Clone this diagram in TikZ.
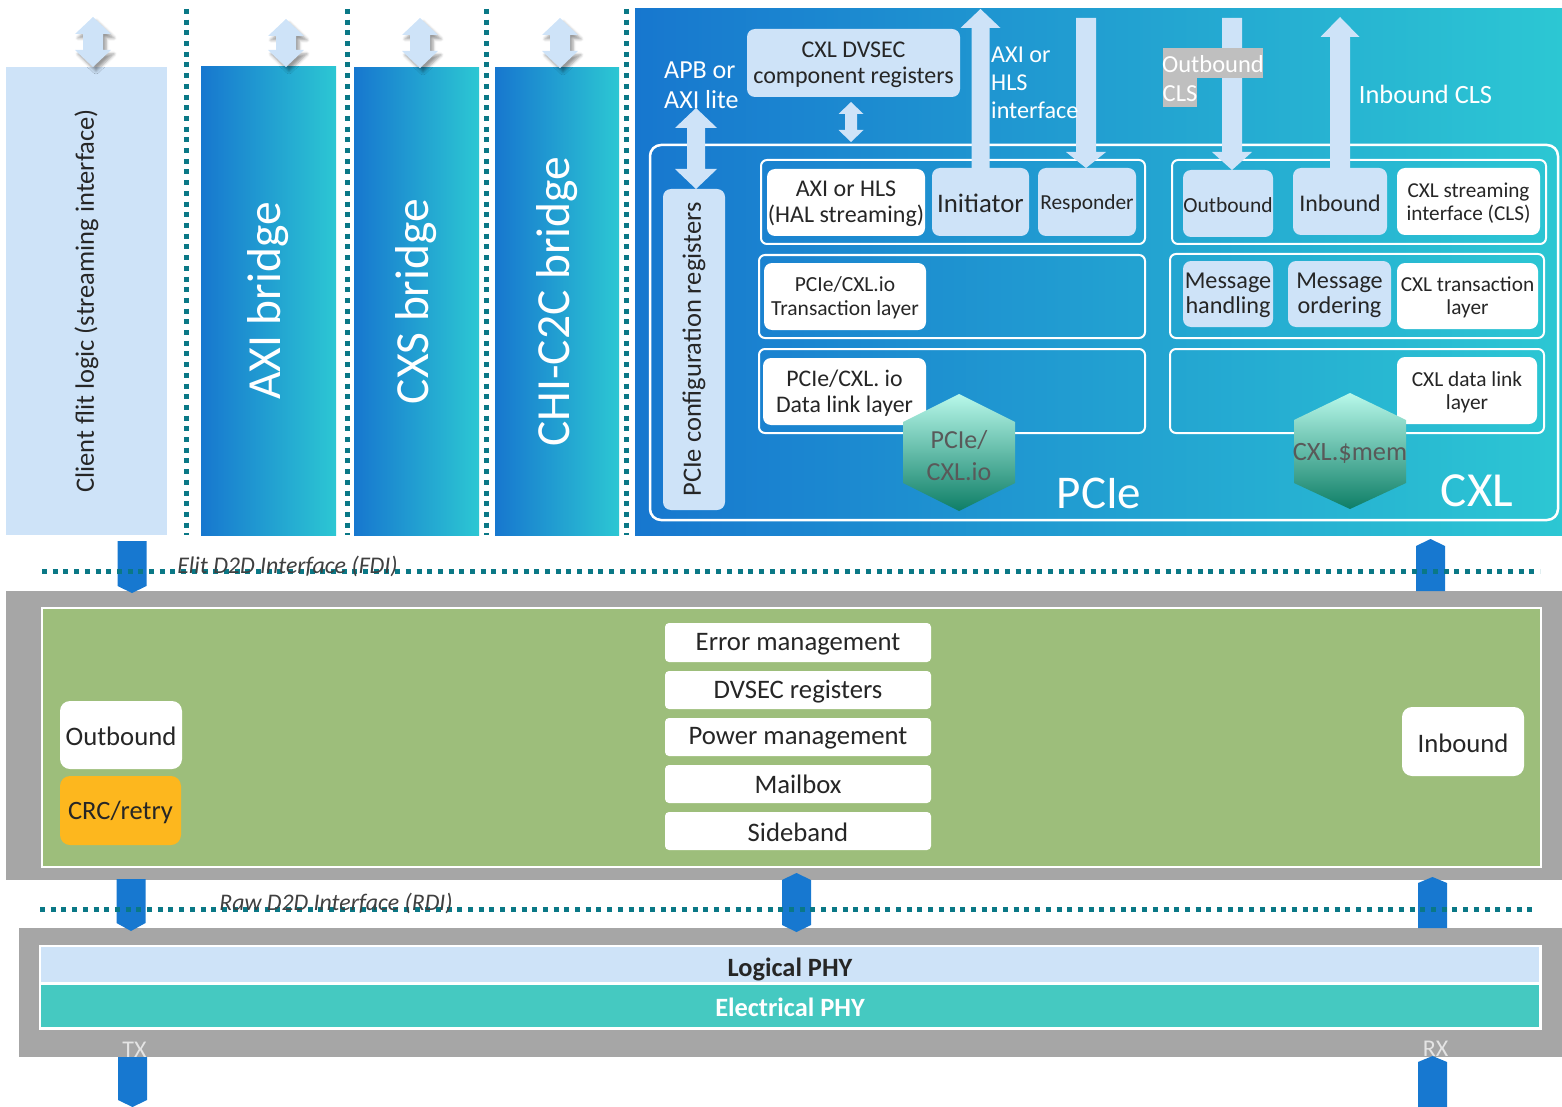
\documentclass[tikz,border=0pt]{standalone}
\usepackage{fontspec}
\setmainfont{Carlito}
\usetikzlibrary{fit,calc,shadows.blur}

\definecolor{lblue}{HTML}{CEE3F8}
\definecolor{dblue}{HTML}{1777CF}
\definecolor{cyanend}{HTML}{2CC7D3}
\definecolor{tabblue}{HTML}{1778D0}
\definecolor{dotteal}{HTML}{0A7886}
\definecolor{gbox}{HTML}{A6A6A6}
\definecolor{leafgreen}{HTML}{9DBE7B}
\definecolor{crcorange}{HTML}{FDB71E}
\definecolor{eteal}{HTML}{45C9C1}
\definecolor{hextop}{HTML}{B8F8EA}
\definecolor{hexbot}{HTML}{0E7E66}
\definecolor{ink}{HTML}{262626}
\definecolor{hexink}{HTML}{595959}
\definecolor{hlgray}{HTML}{BFBFBF}
\definecolor{italink}{HTML}{404040}
\definecolor{txgray}{HTML}{E4E4E4}

% a box covering the rectangle between two corners, with an optional centred label
\NewDocumentCommand\blk{O{} m m m O{} m}{%
  \node[inner sep=0pt,outer sep=0pt,#1,fit={(#3) (#4)}] (#2) {};
  \if\relax\detokenize{#6}\relax\else
    \node[inner sep=0pt, align=center, text=ink, yshift=-1.5pt, #5] (#2-t) at (#2.center) {#6};
  \fi}

\tikzset{
  f/.style 2 args={font=\fontsize{#1}{#2}\selectfont},
  lbox/.style={fill=lblue, rounded corners=8pt},
  wbox/.style={fill=white, rounded corners=8pt},
  rowbox/.style={draw=white, line width=2pt, rounded corners=6pt},
  bridge/.style={left color=dblue, right color=cyanend},
  vlabel/.style={rotate=90, text=white},
  dots/.style={draw=dotteal, line width=5pt, dash pattern=on 5pt off 5.7pt},
  softshadow/.style={blur shadow={shadow xshift=3pt, shadow yshift=-4pt, shadow blur radius=3pt, shadow opacity=40}},
  % double-headed block arrow: origin at the lower tip, drawn upwards
  pics/dblarrow/.style n args={5}{code={
    \fill[lblue,#5] (0,0) -- ({#2/2},{-#4}) -- ({#3/2},{-#4}) -- ({#3/2},{-#1+#4}) -- ({#2/2},{-#1+#4})
      -- (0,{-#1}) -- ({-#2/2},{-#1+#4}) -- ({-#3/2},{-#1+#4}) -- ({-#3/2},{-#4}) -- ({-#2/2},{-#4}) -- cycle;}},
  % block arrow pointing up: origin at the base of the shaft
  pics/uparr/.style n args={4}{code={
    \fill[lblue] ({-#3/2},0) -- ({-#3/2},{-#1+#4}) -- ({-#2/2},{-#1+#4}) -- (0,{-#1})
      -- ({#2/2},{-#1+#4}) -- ({#3/2},{-#1+#4}) -- ({#3/2},0) -- cycle;}},
  % block arrow pointing down: origin at the tip
  pics/downarr/.style n args={4}{code={
    \fill[lblue] (0,0) -- ({#2/2},{-#4}) -- ({#3/2},{-#4}) -- ({#3/2},{-#1})
      -- ({-#3/2},{-#1}) -- ({-#3/2},{-#4}) -- ({-#2/2},{-#4}) -- cycle;}},
  % interface tabs: origin at the top centre
  pics/tabdown/.style 2 args={code={
    \fill[tabblue] (-14.5,0) -- (14.5,0) -- (14.5,{#1-#2}) -- (0,{#1}) -- (-14.5,{#1-#2}) -- cycle;}},
  pics/tabup/.style 2 args={code={
    \fill[tabblue] (0,0) -- (14.5,{#2}) -- (14.5,{#1}) -- (-14.5,{#1}) -- (-14.5,{#2}) -- cycle;}},
  pics/tabboth/.style 2 args={code={
    \fill[tabblue] (0,0) -- (14.5,{#2}) -- (14.5,{#1-#2}) -- (0,{#1}) -- (-14.5,{#1-#2}) -- (-14.5,{#2}) -- cycle;}},
}

\begin{document}
\begin{tikzpicture}[x=1pt,y=-1pt]
\useasboundingbox (0,0) rectangle (1562,1107);

% ---------- client logic and protocol bridges ----------
\blk[fill=lblue]{client}{6,67}{167,535}{}
\node[rotate=90, text=ink, f={26.5}{30}] (clientlbl) at (client.center) {Client flit logic (streaming interface)};
\blk[bridge]{axib}{201,67}{336,535}{}
\node[vlabel, f={47.5}{56}] (axiblbl) at (axib.center) {AXI bridge};
\blk[bridge]{cxsb}{354,68}{479,535}{}
\node[vlabel, f={47.5}{56}] (cxsblbl) at (cxsb.center) {CXS bridge};
\blk[bridge]{chib}{495,68}{619,535}{}
\node[vlabel, f={47.5}{56}] (chiblbl) at (chib.center) {CHI-C2C bridge};

\pic at ($(client.north)+(6.5,0)$) {dblarrow={50}{36}{20}{17}{softshadow}};
\pic at ($(axib.north)+(17.5,0)$) {dblarrow={48}{36}{20}{17}{softshadow}};
\pic at ($(cxsb.north)+(3.5,0)$) {dblarrow={50}{36}{20}{17}{softshadow}};
\pic at ($(chib.north)+(3,0)$) {dblarrow={50}{36}{20}{17}{softshadow}};

\draw[dots] (186,9) -- (186,535);
\draw[dots] (347,9) -- (347,535);
\draw[dots] (486,9) -- (486,535);
\draw[dots] (626,9) -- (626,535);

% ---------- CXL / PCIe protocol block ----------
\blk[left color=dblue, right color=cyanend]{cxlip}{635,9}{1562,535}{}
\blk[draw=white, line width=2.5pt, rounded corners=11pt]{core}{650,145}{1558,520}{}

\blk[rowbox]{prow1}{761,160}{1145,244}{}
\blk[rowbox]{prow2}{759,255}{1145,338}{}
\blk[rowbox]{prow3}{759,349}{1145,433}{}
\blk[rowbox]{crow1}{1172,160}{1546,244}{}
\blk[rowbox]{crow2}{1170,254}{1544,338}{}
\blk[rowbox]{crow3}{1170,349}{1544,433}{}

\blk[lbox]{pcfg}{663,189}{725,510}{}
\node[rotate=90, text=ink, f={26.5}{30}] (pcfglbl) at (pcfg.center) {PCIe configuration registers};
\blk[lbox]{dvsec}{747,29}{960,97}[f={24}{26}]{CXL DVSEC\\component registers}

\blk[wbox]{axihls}{767,169}{925,236}[f={24}{26}]{AXI or HLS\\(HAL streaming)}
\blk[lbox]{init}{932,168}{1029,236}[f={26.8}{30}]{Initiator}
\blk[lbox]{resp}{1038,168}{1136,236}[f={21.4}{25}]{Responder}
\blk[wbox]{ptl}{764,263}{926,330}[f={21.5}{23.5}]{PCIe/CXL.io\\Transaction layer}
\blk[wbox]{pdll}{763,358}{926,425}[f={23.8}{26}]{PCIe/CXL. io\\Data link layer}

\blk[lbox]{cob}{1183,170}{1273,237}[f={21.5}{25}]{Outbound}
\blk[lbox]{cib}{1293,168}{1387,235}[f={23.9}{27}]{Inbound}
\blk[wbox]{cls}{1397,168}{1540,235}[f={21.2}{23}]{CXL streaming\\interface (CLS)}
\blk[lbox]{mh}{1183,261}{1273,327}[f={24.2}{25}]{Message\\handling}
\blk[lbox]{mo}{1288,261}{1391,327}[f={24.2}{25}]{Message\\ordering}
\blk[wbox]{ctl}{1397,263}{1538,329}[f={21.3}{23}]{CXL transaction\\layer}
\blk[wbox]{cdl}{1397,357}{1537,424}[f={21.4}{23}]{CXL data link\\layer}

% register access and streaming interface arrows
\pic at ($(pcfg.north)+(2,0)$) {dblarrow={81}{42}{18}{20}{}};
\pic at ($(dvsec.south)+(-2.5,45)$) {dblarrow={40}{25}{12}{12}{}};
\pic at (init.north) {uparr={159}{40}{18}{19}};
\pic at ($(resp.north)+(-1,0)$) {downarr={150}{40}{20}{16}};
\pic at ($(cob.north)+(4,0)$) {downarr={152}{40}{20}{18}};
\pic at (cib.north) {uparr={151}{39}{20}{20}};

\node[anchor=west, inner sep=0pt, text=white, align=left, f={26}{30}] (apb) at (664,85) {APB or\\AXI lite};
\node[anchor=west, inner sep=0pt, text=white, align=left, f={24.2}{28}] (axiif) at (991,83) {AXI or\\HLS\\interface};
\blk[fill=hlgray]{ocls1}{1163,48}{1263,78}[text=white, f={24.5}{28}]{Outbound}
\blk[fill=hlgray]{ocls2}{1163,78}{1197,107}[text=white, f={24.5}{28}]{CLS}
\node[text=white, f={26.4}{30}] (icls) at (1425.5,94) {Inbound CLS};

% protocol hexagons
\shade[top color=hextop, bottom color=hexbot] (959,394) -- (1015,422) -- (1015,483) -- (959,511) -- (903,483) -- (903,422) -- cycle;
\node[text=hexink, align=center, f={26}{32}] (pciehex) at (959,456) {PCIe/\\CXL.io};
\shade[top color=hextop, bottom color=hexbot] (1350,393) -- (1406,420) -- (1406,483) -- (1350,509) -- (1294,483) -- (1294,420) -- cycle;
\node[text=hexink, f={26.4}{30}] (cxlhex) at (1350,453) {CXL.\$mem};

\node[text=white, f={47}{54}] (pcielbl) at (1099,493) {PCIe};
\node[text=white, f={49}{56}] (cxllbl) at (1477,491) {CXL};

% ---------- die-to-die adapter ----------
\blk[fill=gbox]{fdi}{6,591}{1562,880}{}
\blk[fill=leafgreen, draw=white, line width=2.5pt]{adapter}{42,608}{1541,867}{}
\blk[wbox, rounded corners=4pt]{errm}{665,623}{931,662}[f={26.7}{30}]{Error management}
\blk[wbox, rounded corners=4pt]{dvsecr}{665,671}{931,709}[f={26.7}{30}]{DVSEC registers}
\blk[wbox, rounded corners=4pt]{pwr}{665,718}{931,756}[f={26.7}{30}]{Power management}
\blk[wbox, rounded corners=4pt]{mbox}{665,765}{931,803}[f={26.7}{30}, yshift=1pt]{Mailbox}
\blk[wbox, rounded corners=4pt]{sideb}{665,812}{931,850}[f={26.7}{30}]{Sideband}
\blk[wbox, rounded corners=10pt]{dob}{60,701}{182,769}[f={26.7}{30}]{Outbound}
\blk[fill=crcorange, rounded corners=10pt]{crc}{60,776}{181,845}[f={26.5}{30}]{CRC/retry}
\blk[wbox, rounded corners=10pt]{dib}{1402,707}{1524,776}[f={26.7}{30}]{Inbound}

% ---------- physical layer ----------
\blk[fill=gbox]{rdi}{19,928}{1562,1057}{}
\blk[fill=white]{phyframe}{39,945}{1542,1030}{}
\blk[fill=lblue]{lphy}{41,947}{1539,982}[yshift=-3pt, font={\fontsize{26.4}{30}\selectfont\bfseries}]{Logical PHY}
\blk[fill=eteal]{ephy}{41,985}{1539,1027}[text=white, font={\fontsize{26.4}{30}\selectfont\bfseries}]{Electrical PHY}

% ---------- interface tabs ----------
\coordinate (fdiTx) at (132,541);
\coordinate (fdiRx) at (1430.5,539);
\coordinate (rdiTx) at (131,879);
\coordinate (rdiSb) at (796.5,873);
\coordinate (rdiRx) at (1432.5,877);
\coordinate (phyTx) at (132.5,1057);
\coordinate (phyRx) at (1432.5,1056);
\pic at (fdiTx) {tabdown={52}{7}};
\pic at (fdiRx) {tabup={52}{7}};
\pic at (rdiTx) {tabdown={52}{8}};
\pic at (rdiSb) {tabboth={59}{7}};
\pic at (rdiRx) {tabup={51}{6}};
\pic at (phyTx) {tabdown={50}{7}};
\pic at (phyRx) {tabup={51}{6}};

\draw[dots] (42,571) -- (1540,571);
\draw[dots] (40,909) -- (1535,909);

\node[text=italink, font={\fontsize{23.9}{28}\selectfont\itshape}] (fdilbl) at (287.5,566) {Elit D2D Interface (FDI)};
\node[text=italink, font={\fontsize{23.8}{28}\selectfont\itshape}] (rdilbl) at (336,903) {Raw D2D Interface (RDI)};
\node[text=txgray, f={24}{28}] (txlbl) at (134.5,1050) {TX};
\node[text=txgray, f={24}{28}] (rxlbl) at (1435.5,1048.5) {RX};

\end{tikzpicture}
\end{document}
